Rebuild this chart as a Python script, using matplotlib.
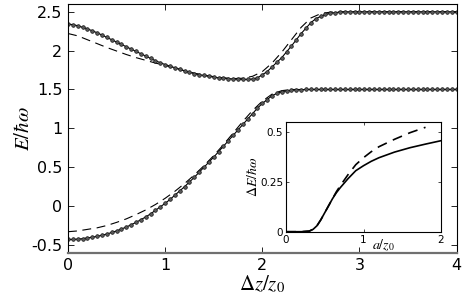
import numpy as np
import matplotlib
matplotlib.use("Agg")
import matplotlib.pyplot as plt

plt.rcParams['mathtext.fontset'] = 'stix'
plt.rcParams['font.family'] = ['DejaVu Sans']

# ---------------- data ----------------
dz_fine = np.round(np.arange(0, 4.0001, 0.05), 3)

upper_exact = [2.34, 2.335, 2.32, 2.30, 2.28, 2.255, 2.23, 2.20, 2.17, 2.14,
               2.11, 2.08, 2.05, 2.02, 1.99, 1.96, 1.93, 1.90, 1.87, 1.845,
               1.82, 1.80, 1.78, 1.76, 1.74, 1.72, 1.705, 1.69, 1.68, 1.67,
               1.66, 1.65, 1.645, 1.64, 1.635, 1.632, 1.63, 1.63, 1.635, 1.65,
               1.69, 1.73, 1.79, 1.85, 1.91, 1.985, 2.06, 2.14, 2.22, 2.29,
               2.36, 2.41, 2.44, 2.465, 2.48, 2.49, 2.495, 2.498, 2.5,
               2.5, 2.5, 2.5, 2.5, 2.5, 2.5, 2.5, 2.5, 2.5, 2.5, 2.5,
               2.5, 2.5, 2.5, 2.5, 2.5, 2.5, 2.5, 2.5, 2.5, 2.5, 2.5]

lower_exact = [-0.43, -0.43, -0.425, -0.42, -0.41, -0.40, -0.39, -0.375, -0.36, -0.34,
               -0.32, -0.295, -0.27, -0.24, -0.21, -0.175, -0.14, -0.10, -0.055, -0.01,
               0.035, 0.085, 0.14, 0.195, 0.25, 0.31, 0.37, 0.435, 0.50, 0.565,
               0.63, 0.70, 0.77, 0.84, 0.91, 0.98, 1.05, 1.12, 1.19, 1.26,
               1.32, 1.37, 1.42, 1.45, 1.47, 1.482, 1.49, 1.495, 1.498, 1.5,
               1.5, 1.5, 1.5, 1.5, 1.5, 1.5, 1.5, 1.5, 1.5, 1.5, 1.5,
               1.5, 1.5, 1.5, 1.5, 1.5, 1.5, 1.5, 1.5, 1.5, 1.5, 1.5,
               1.5, 1.5, 1.5, 1.5, 1.5, 1.5, 1.5, 1.5, 1.5]

dz_coarse = np.round(np.arange(0, 4.0001, 0.1), 3)

upper_approx = [2.22, 2.19, 2.14, 2.09, 2.04, 1.995, 1.95, 1.91, 1.875, 1.84,
                1.81, 1.775, 1.74, 1.71, 1.685, 1.665, 1.65, 1.64, 1.645, 1.67,
                1.73, 1.84, 1.98, 2.14, 2.30, 2.42, 2.475, 2.495,
                2.5, 2.5, 2.5, 2.5, 2.5, 2.5, 2.5, 2.5, 2.5, 2.5, 2.5, 2.5, 2.5]

lower_approx = [-0.33, -0.32, -0.30, -0.28, -0.25, -0.21, -0.165, -0.11, -0.05, 0.02,
                0.10, 0.19, 0.29, 0.40, 0.52, 0.65, 0.79, 0.94, 1.09, 1.23,
                1.35, 1.44, 1.485,
                1.5, 1.5, 1.5, 1.5, 1.5, 1.5, 1.5, 1.5, 1.5, 1.5, 1.5, 1.5, 1.5,
                1.5, 1.5, 1.5, 1.5, 1.5]

a_vals = [0, 0.1, 0.2, 0.3, 0.35, 0.4, 0.45, 0.5, 0.55, 0.6, 0.65, 0.7,
          0.8, 0.9, 1.0, 1.1, 1.2, 1.4, 1.6, 1.8, 2.0]
gap_exact = [0, 0, 0, 0.003, 0.012, 0.03, 0.06, 0.095, 0.13, 0.165, 0.195, 0.22,
             0.265, 0.305, 0.33, 0.352, 0.37, 0.398, 0.42, 0.438, 0.455]
gap_approx = [0, 0, 0, 0.003, 0.012, 0.03, 0.06, 0.095, 0.13, 0.165, 0.2, 0.23,
              0.285, 0.335, 0.37, 0.40, 0.425, 0.462, 0.495, 0.522, 0.545]

main_xticks = [0, 1, 2, 3, 4]
main_yticks = [-0.5, 0, 0.5, 1, 1.5, 2, 2.5]
main_yticklabels = ['-0.5', '0', '0.5', '1', '1.5', '2', '2.5']
inset_xticks = [0, 1, 2]
inset_yticks = [0, 0.25, 0.5]

# ---------------- figure ----------------
fig = plt.figure(figsize=(4.63, 3.05), dpi=100)
ax = fig.add_axes([0.1469, 0.1715, 0.8393, 0.8154])

ax.plot(dz_coarse, upper_approx, color='black', lw=0.8, dashes=(8, 5))
ax.plot(dz_coarse, lower_approx, color='black', lw=0.8, dashes=(8, 5))
for ys in (upper_exact, lower_exact):
    ax.plot(dz_fine, ys, color='black', lw=0.8, marker='o', ms=2.6,
            mfc='#5a5a5a', mec='#111111', mew=0.5)

ax.set_xlim(0, 4)
ax.set_ylim(-0.6, 2.6)
ax.set_xticks(main_xticks)
ax.set_xticklabels([str(t) for t in main_xticks])
ax.set_yticks(main_yticks)
ax.set_yticklabels(main_yticklabels)
ax.tick_params(direction='in', length=4, width=0.6, labelsize=11.5,
               top=True, right=True, pad=4)
for s in ax.spines.values():
    s.set_linewidth(0.8)
ax.spines['bottom'].set_color('#707070')
ax.spines['bottom'].set_linewidth(1.6)
ax.set_xlabel(r'$\Delta z/z_0$', fontsize=15, labelpad=0)
ax.set_ylabel(r'$E/\hbar\omega$', fontsize=15, labelpad=-1)

# ---------------- inset ----------------
ins = fig.add_axes([0.6177, 0.2403, 0.3348, 0.3607])
ins.plot(a_vals, gap_exact, color='black', lw=1.2)
ins.plot(a_vals[:-1], gap_approx[:-1], color='black', lw=1.2, dashes=(6, 4))
ins.set_xlim(0, 2)
ins.set_ylim(0, 0.55)
ins.set_xticks(inset_xticks)
ins.set_xticklabels([str(t) for t in inset_xticks])
ins.set_yticks(inset_yticks)
ins.set_yticklabels(['0', '0.25', '0.5'])
ins.tick_params(direction='in', length=2.5, width=0.5, labelsize=7.5,
                top=True, right=True)
ins.tick_params(axis='x', pad=2.5)
ins.tick_params(axis='y', pad=2)
for s in ins.spines.values():
    s.set_linewidth(0.8)
ins.set_ylabel(r'$\Delta E/\hbar\omega$', fontsize=10, labelpad=0)
ins.text(0.63, -0.12, r'$a/z_0$', transform=ins.transAxes, fontsize=10,
         ha='center', va='center')

fig.savefig('out.png', dpi=100)
